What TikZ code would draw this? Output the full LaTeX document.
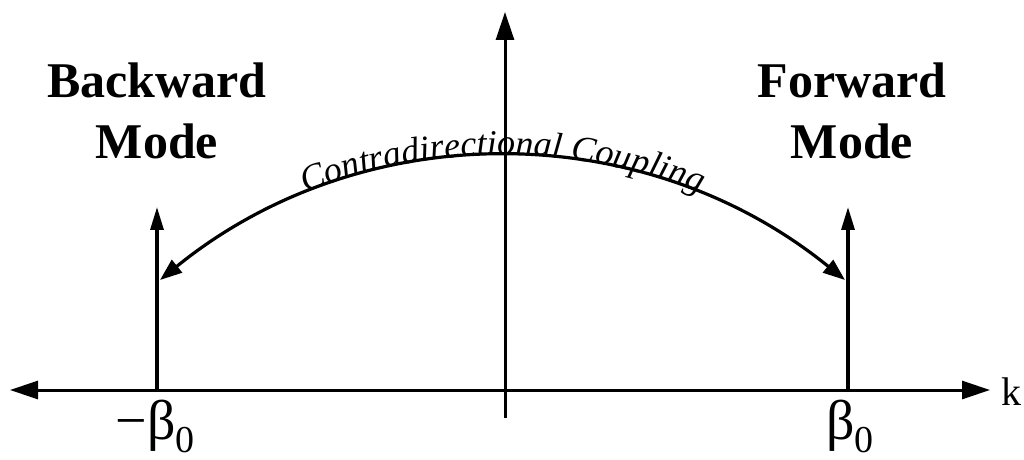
\documentclass[tikz,border=0pt]{standalone}
\usepackage{fontspec}
\setmainfont{Liberation Serif}
\newfontfamily\couplingfont{Liberation Serif Italic}
\usetikzlibrary{arrows.meta,decorations.text}

\begin{document}
\begin{tikzpicture}[
    x=0.5pt, y=-0.5pt,
    axis/.style={line width=1.5pt, -{Triangle[length=14pt, width=9pt]}},
    mode/.style={line width=1.6pt, -{Triangle[length=11.5pt, width=6.5pt]}},
    coupling/.style={line width=1.6pt, {Triangle[length=11pt, width=8pt]}-{Triangle[length=11pt, width=8pt]}},
    title/.style={font=\fontsize{25}{30.5}\selectfont\bfseries, align=center, inner sep=0pt, anchor=north},
    prop/.style={font=\fontsize{28}{30}\selectfont, inner sep=0pt, anchor=north},
]
    \useasboundingbox (0,0) rectangle (1024,460);

    % --- k axis and frequency axis ---
    \coordinate (kL) at (10,390);
    \coordinate (kR) at (990,390);
    \coordinate (wBot) at (505,418);
    \coordinate (wTop) at (505,12);
    \draw[axis, {Triangle[length=14pt, width=9pt]}-{Triangle[length=14pt, width=9pt]}] (kL) -- (kR);
    \draw[axis] (wBot) -- (wTop);
    \node[font=\fontsize{20}{22}\selectfont, inner sep=0pt, anchor=base west] (klabel) at (1001,405) {k};

    % --- the two modes ---
    \coordinate (bBot) at (157,390);
    \coordinate (bTop) at (157,207);
    \coordinate (fBot) at (848,390);
    \coordinate (fTop) at (848,207);
    \draw[mode] (bBot) -- (bTop);
    \draw[mode] (fBot) -- (fTop);
    \node[title] (backward) at (157,62) {Backward\\Mode};
    \node[title] (forward) at (852,62) {Forward\\Mode};
    \node[prop] (minusbeta) at (155,400) {−β\raisebox{-0.5ex}{\fontsize{19}{19}\selectfont 0}};
    \node[prop] (beta) at (850,400) {β\raisebox{-0.5ex}{\fontsize{19}{19}\selectfont 0}};

    % --- coupling between them ---
    \coordinate (arcL) at (160,280);
    \coordinate (arcR) at (845,280);
    \draw[coupling, postaction={decorate},
          decoration={text along path, text align=center, raise=1pt,
                      text={|\fontsize{18}{20}\couplingfont|Contradirectional Coupling}}]
        (arcL) .. controls +(202,-164) and +(-202,-164) .. (arcR);
\end{tikzpicture}
\end{document}
